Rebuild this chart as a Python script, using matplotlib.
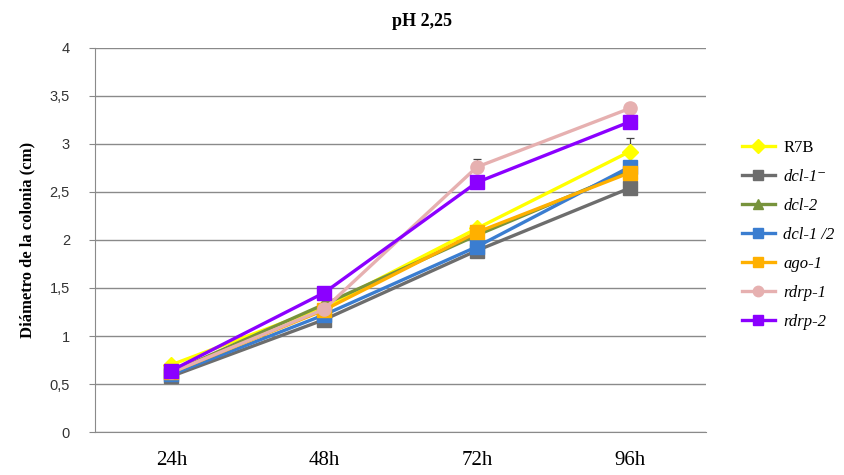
import matplotlib
matplotlib.use("Agg")
import matplotlib.pyplot as plt
import numpy as np

categories = ["24h", "48h", "72h", "96h"]
series_names = ["R7B", "dcl-1⁻", "dcl-2", "dcl-1 /2", "ago-1", "rdrp-1", "rdrp-2"]
r7b = [0.70, 1.30, 2.12, 2.92]
dcl1 = [0.58, 1.17, 1.89, 2.54]
dcl2 = [0.62, 1.33, 2.05, 2.72]
dcl12 = [0.60, 1.22, 1.93, 2.76]
ago1 = [0.62, 1.27, 2.08, 2.70]
rdrp1 = [0.62, 1.28, 2.76, 3.37]
rdrp2 = [0.64, 1.45, 2.60, 3.23]
err_r7b = [0, 0, 0, 0.14]
err_rdrp1 = [0, 0, 0.08, 0.05]

colors = ["#FFFF00", "#6D6D6D", "#77933C", "#3A7DD0", "#FFB000", "#E6B0B0", "#8B00FF"]
markers = ["D", "s", "^", "s", "s", "o", "s"]
data = [r7b, dcl1, dcl2, dcl12, ago1, rdrp1, rdrp2]
errs = [err_r7b, None, None, None, None, err_rdrp1, None]
italic = [False, True, True, True, True, True, True]

fig = plt.figure(figsize=(8.45, 4.75), dpi=100)
ax = fig.add_axes([0.1124, 0.0905, 0.7231, 0.8085])
x = np.arange(len(categories))

handles = []
for name, vals, c, m, e in zip(series_names, data, colors, markers, errs):
    if e is not None:
        ax.errorbar(x, vals, yerr=[np.zeros(4), e], fmt="none", ecolor="#444444",
                    elinewidth=0.9, capsize=3, capthick=0.9, zorder=2)
    ms = 8 if m == "D" else 9.5
    h, = ax.plot(x, vals, color=c, lw=2.4, marker=m, ms=ms, mec=c, mfc=c,
                 label=name, zorder=3)
    handles.append(h)

ax.set_xlim(-0.5, 3.5)
ax.set_ylim(0, 4)
ax.set_yticks(np.arange(0, 4.01, 0.5))
ax.set_yticklabels(["0", "0,5", "1", "1,5", "2", "2,5", "3", "3,5", "4"],
                   fontsize=10.5, family="Liberation Sans", color="#333333")
ax.set_xticks(x)
ax.set_xticklabels(categories, fontsize=15, family="Liberation Serif")
ax.tick_params(axis="x", length=0, pad=14)
ax.tick_params(axis="y", length=4, color="#888888", pad=14)
ax.yaxis.grid(True, color="#8A8A8A", lw=1.0)
ax.set_axisbelow(True)
for s in ["top", "right"]:
    ax.spines[s].set_visible(False)
ax.spines["left"].set_color("#8A8A8A")
ax.spines["bottom"].set_color("#8A8A8A")

ax.set_ylabel("Diámetro de la colonia (cm)", fontsize=12, family="Liberation Serif",
              fontweight="bold", labelpad=10)
fig.text(0.5, 0.955, "pH 2,25", ha="center", va="center", fontsize=13,
         family="Liberation Serif", fontweight="bold")

leg = fig.legend(handles=handles, labels=series_names, loc="upper left",
                 bbox_to_anchor=(0.87, 0.72), frameon=False, handlelength=2.0,
                 labelspacing=0.78, borderaxespad=0, handletextpad=0.5,
                 prop={"family": ["Liberation Serif", "DejaVu Serif"], "size": 12})
for t, it in zip(leg.get_texts(), italic):
    if it:
        t.set_style("italic")
for lh in leg.legend_handles:
    lh.set_markersize(7.5)

fig.savefig("out.png", dpi=100)
